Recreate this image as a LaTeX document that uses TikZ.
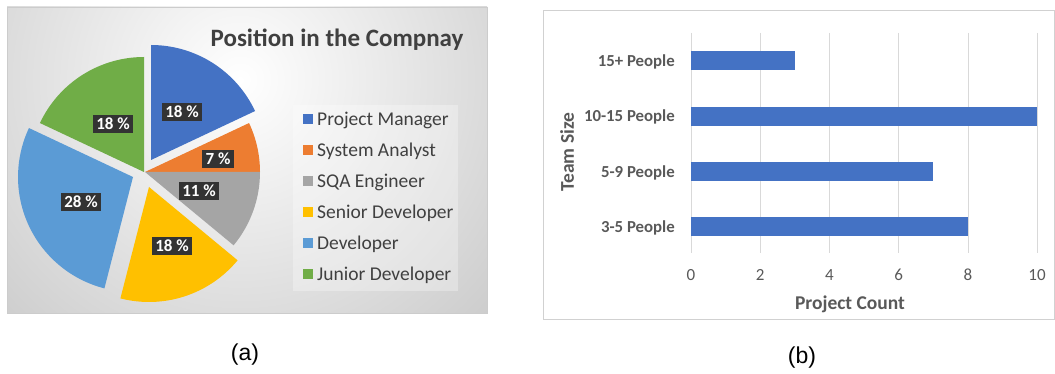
\documentclass[tikz,border=0pt]{standalone}
\usepackage{fontspec}
\setmainfont{Carlito}
\newfontfamily\capfont{Liberation Sans}
\usetikzlibrary{calc}
\definecolor{pmblue}{HTML}{4472C4}
\definecolor{saorange}{HTML}{ED7D31}
\definecolor{sqagray}{HTML}{A5A5A5}
\definecolor{snyellow}{HTML}{FFC000}
\definecolor{devblue}{HTML}{5B9BD5}
\definecolor{jrgreen}{HTML}{70AD47}
\definecolor{axisgray}{HTML}{595959}
\def\pieslice[#1](#2)(#3:#4){\fill[#1] (#2) -- ++(#3:115) arc (#3:#4:115) -- cycle;}
\tikzset{
  pct/.style={fill=black!80, text=white, font=\fontsize{17}{17}\selectfont\bfseries, inner sep=3.5pt},
  legtxt/.style={anchor=base west, text=black!75, font=\fontsize{19.5}{19.5}\selectfont, inner sep=0pt},
  cattxt/.style={anchor=base east, text=axisgray, font=\fontsize{16.8}{16.8}\selectfont\bfseries, inner sep=0pt},
  ticktxt/.style={text=axisgray, font=\fontsize{17}{17}\selectfont, inner sep=0pt},
  axtitle/.style={text=axisgray, font=\fontsize{19.5}{19.5}\selectfont\bfseries, inner sep=0pt},
  captxt/.style={font=\capfont\fontsize{23}{23}\selectfont, inner sep=0pt}
}
\begin{document}
\begin{tikzpicture}[x=1pt, y=1pt]
			%%%%% START %%%%%
			\useasboundingbox (0,0) rectangle (1055,-374);
			
			% panel (a)
			\begin{scope}
			\clip (7,-7) rectangle (487,-313);
			\shade[inner color=white, outer color=black!30] (240,-80) circle (520);
			\end{scope}
			\draw[black!20] (7,-7) rectangle (487,-313);
			
			\node[anchor=base, text=black!75, font=\fontsize{25}{25}\selectfont\bfseries, inner sep=0pt] (ttl) at (337,-47) {Position in the Compnay};
			
			\pieslice[pmblue](151,-160)(90:25.2)
			\pieslice[saorange](145,-172)(25.2:0)
			\pieslice[sqagray](145,-172)(0:-39.6)
			\pieslice[snyellow](149,-187)(-39.6:-104.4)
			\pieslice[devblue](133,-177)(-104.4:-205.2)
			\pieslice[jrgreen](144,-172)(-205.2:-270)
			
			\node[pct] (lpm) at (182,-112) {18 \%};
			\node[pct] (lsa) at (218,-159) {7 \%};
			\node[pct] (lsqa) at (199,-191) {11 \%};
			\node[pct] (lsn) at (172,-246) {18 \%};
			\node[pct] (ldev) at (81,-202) {28 \%};
			\node[pct] (ljr) at (113,-124) {18 \%};
			
			\fill[white, opacity=0.3] (293,-105) rectangle (458,-291);
			\foreach \i/\c/\t in {0/pmblue/Project Manager, 1/saorange/System Analyst, 2/sqagray/SQA Engineer,
			                      3/snyellow/Senior Developer, 4/devblue/Developer, 5/jrgreen/Junior Developer}{
				\fill[\c] (303,{-114-31*\i}) rectangle ++(10,-10);
				\node[legtxt] (leg\i) at (317,{-125.5-31*\i}) {\t};
			}
			
			% panel (b)
			\draw[black!18] (543,-10) rectangle (1054.5,-319);
			\foreach \v in {0,2,...,10}{
				\draw[black!15] ({691+34.6*\v},-33) -- ({691+34.6*\v},-253);
				\node[ticktxt] (tick\v) at ({691+34.6*\v},-275) {\v};
			}
			\foreach \i/\n/\t in {0/3/15+ People, 1/10/10-15 People, 2/7/5-9 People, 3/8/3-5 People}{
				\fill[pmblue] (691,{-51.5-55.3*\i}) rectangle ({691+34.6*\n},{-70.5-55.3*\i});
				\node[cattxt] (cat\i) at (675,{-66.5-55.3*\i}) {\t};
			}
			\node[axtitle, anchor=base] (xlab) at (850,-309) {Project Count};
			\node[axtitle, rotate=90] (ylab) at (567,-152) {Team Size};
			
			\node[captxt] (capa) at (245,-355) {(a)};
			\node[captxt] (capb) at (802,-358) {(b)};
			%%%%% END %%%%%
\end{tikzpicture}
\end{document}
